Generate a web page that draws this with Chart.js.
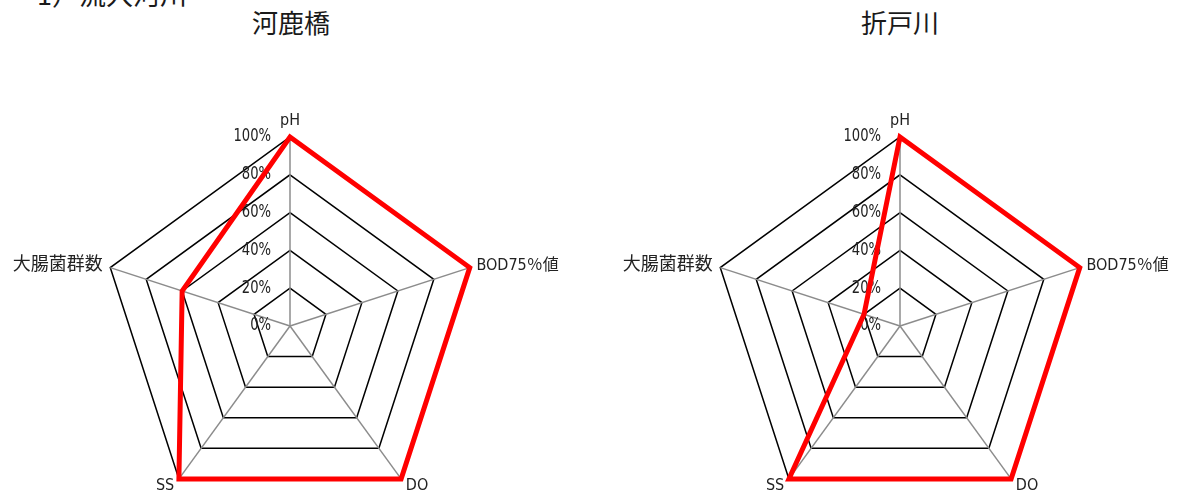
<!DOCTYPE html>
<html>
<head>
<meta charset="utf-8">
<script src="https://cdn.jsdelivr.net/npm/chart.js@4.4.1/dist/chart.umd.min.js"></script>
<style>
  html, body { margin: 0; padding: 0; width: 1181px; height: 495px; overflow: hidden; background: #fff; }
  .title { position: absolute; font-family: "Noto Sans CJK JP", sans-serif; font-size: 26px; line-height: 26px; color: #1a1a1a; white-space: nowrap; }
  canvas { position: absolute; }
</style>
</head>
<body>
<div class="title" id="heading" style="left:37px; top:-19px; font-size:27px;"></div>
<div class="title" id="t0" style="left:191px; width:200px; text-align:center; top:9px;"></div>
<div class="title" id="t1" style="left:800px; width:200px; text-align:center; top:9px;"></div>
<canvas id="c0" width="620" height="430" style="left:-20px; top:98px;"></canvas>
<canvas id="c1" width="620" height="430" style="left:590px; top:98px;"></canvas>
<script>
// ---- data ----
const sectionHeading = '1）流入河川';
const stationNames = ['河鹿橋', '折戸川'];
const categories = ['pH', 'BOD75％値', 'DO', 'SS', '大腸菌群数'];
const kajikabashiValues = [100, 100, 100, 100, 60];
const oritogawaValues = [100, 100, 100, 100, 20];
const tickValues = [0, 20, 40, 60, 80, 100];
const tickLabels = ['0%', '20%', '40%', '60%', '80%', '100%'];

document.getElementById('heading').textContent = sectionHeading;
document.getElementById('t0').textContent = stationNames[0];
document.getElementById('t1').textContent = stationNames[1];

const FONT = '"Liberation Sans Narrow", "Arial Narrow", "DejaVu Sans Condensed", "Noto Sans CJK JP", sans-serif';
const labelPadding = [6.8, 7, 8, 8, 8];
const labelLineHeight = [1.2, 0.01, 0.01, 0.01, 0.01];
const labelSize = [16, 16, 16, 16, 18];

const tickLabelPlugin = {
  id: 'tickLabelPlugin',
  beforeDatasetsDraw(chart) {
    const s = chart.scales.r;
    const ctx = chart.ctx;
    s.ticks.forEach((t) => {
      const i = tickValues.indexOf(t.value);
      const label = i >= 0 ? tickLabels[i] : t.value + '%';
      const d = s.getDistanceFromCenterForValue(t.value);
      ctx.save();
      ctx.font = '17px ' + FONT;
      ctx.fillStyle = '#222';
      ctx.textAlign = 'right';
      ctx.textBaseline = 'middle';
      ctx.translate(s.xCenter - 19, s.yCenter - d);
      ctx.scale(0.86, 1);
      ctx.fillText(label, 0, 0);
      ctx.restore();
    });
  }
};

function makeChart(id, values) {
  return new Chart(document.getElementById(id), {
    type: 'radar',
    data: {
      labels: categories,
      datasets: [{
        data: values,
        borderColor: 'rgb(255,0,0)',
        borderWidth: 5,
        backgroundColor: 'rgba(0,0,0,0)',
        fill: false,
        pointRadius: 0,
        pointHoverRadius: 0,
        tension: 0,
        borderJoinStyle: 'miter'
      }]
    },
    options: {
      responsive: false,
      animation: false,
      layout: { padding: 0 },
      plugins: { legend: { display: false }, tooltip: { enabled: false }, title: { display: false } },
      scales: {
        r: {
          min: 0,
          max: 100,
          beginAtZero: true,
          ticks: { display: false, stepSize: 20 },
          grid: { color: '#000', lineWidth: 1.5 },
          angleLines: { color: '#8c8c8c', lineWidth: 1.5 },
          pointLabels: {
            color: '#222',
            padding: (c) => labelPadding[c.index],
            font: (c) => ({ family: FONT, size: labelSize[c.index], lineHeight: labelLineHeight[c.index] })
          }
        }
      }
    },
    plugins: [tickLabelPlugin]
  });
}

makeChart('c0', kajikabashiValues);
makeChart('c1', oritogawaValues);
</script>
</body>
</html>
